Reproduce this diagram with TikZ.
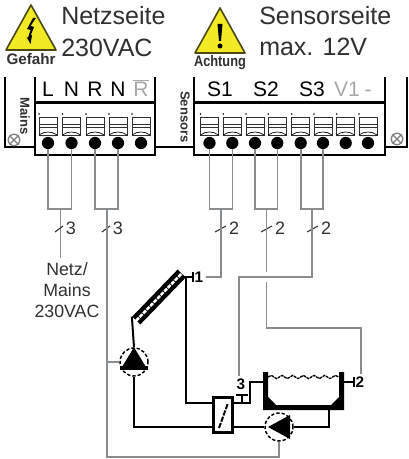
\documentclass[tikz,border=0pt]{standalone}
\usepackage{fontspec}
\setmainfont{Liberation Sans}
\usepackage{tikz}
\usetikzlibrary{decorations.pathmorphing}
\definecolor{wiregray}{HTML}{8A8D90}
\definecolor{signyellow}{HTML}{F2EA24}
\definecolor{signedge}{HTML}{4C4A14}
\definecolor{softblack}{HTML}{303030}
\definecolor{palegray}{HTML}{A8A8A8}

\begin{document}
\begin{tikzpicture}[x=0.75pt,y=-0.75pt,
				heading/.style={anchor=base west,inner sep=0pt,font=\fontsize{18.75pt}{20pt}\selectfont,text=softblack},
				signtext/.style={anchor=base,inner sep=0pt,font=\bfseries\fontsize{11.4pt}{12pt}\selectfont,text=softblack},
				blocktext/.style={rotate=-90,inner sep=0pt,font=\bfseries\fontsize{9.8pt}{10pt}\selectfont,text=softblack},
				pinlabel/.style={anchor=base,inner sep=0pt,font=\fontsize{15.75pt}{16pt}\selectfont},
				count/.style={inner sep=0pt,font=\fontsize{13.5pt}{14pt}\selectfont,text=softblack},
				sensor/.style={inner sep=1.5pt,font=\bfseries\fontsize{11.5pt}{12pt}\selectfont},
				terminal/.style={circle,fill=black,inner sep=0pt,minimum size=9.2pt},
				clamp/.style={rectangle,draw=softblack,line width=0.65pt,fill=white,inner sep=0pt,minimum width=13.5pt,minimum height=13.5pt},
				screw/.style={circle,draw=gray,line width=1pt,inner sep=0pt,minimum size=8.6pt},
				thickline/.style={line width=1.9pt},
				thinline/.style={line width=0.9pt},
				wire/.style={draw=wiregray,line width=1.2pt},
				tick/.style={line width=0.8pt,softblack},
				pipe/.style={line width=1.5pt},
				pump/.style={circle,draw,dashed,line width=1.1pt,fill=white,inner sep=0pt,minimum size=21pt,dash pattern=on 2.5pt off 1.5pt},
				exchanger/.style={rectangle,draw,line width=1.9pt,fill=white,inner sep=0pt,minimum width=14.5pt,minimum height=26pt},
				collector/.style={rectangle,fill=black,inner sep=0pt,rotate=46,minimum width=49pt,minimum height=8.5pt}]
	\useasboundingbox (0,0) rectangle (408,459);
	% warning signs
	\draw[fill=signyellow,draw=signedge,line width=1.2pt,line join=round] (31,5) -- (56,50) -- (6,50) -- cycle;
	\fill (33,18) -- (27,29) -- (30.5,30) -- (28,38) -- (26.5,37) -- (30.5,44) -- (32,35) -- (30.5,36) -- (34,27) -- (30.5,26) -- (36,18) -- cycle;
	\draw[fill=signyellow,draw=signedge,line width=1.2pt,line join=round] (220,8) -- (245,53) -- (195,53) -- cycle;
	\fill (217.5,24) -- (222.5,24) -- (221,41) -- (219,41) -- cycle;
	\fill (220,46) circle (2.5);
	\node[signtext] (Gefahr) at (31,65) {Gefahr};
	\node[signtext] (Achtung) at (220,67) {\scalebox{.84}[1]{Achtung}};
	\node[heading] (Netzseite) at (61,25) {Netzseite};
	\node[heading] (Netzspannung) at (61,57) {230VAC};
	\node[heading] (Sensorseite) at (259,25) {Sensorseite};
	\node[heading] (Sensorspannung) at (259,56) {max. 12V};
	% housing
	\draw[thinline] (5,77) -- (5,147) -- (35,147);
	\draw[thickline] (35,77) -- (35,155) -- (155,155) -- (155,77);
	\draw[thickline] (35,102.5) -- (155,102.5);
	\draw[thinline] (155,147) -- (194,147);
	\draw[thickline] (194,77) -- (194,155) -- (385,155) -- (385,102.5) -- (194,102.5);
	\draw[thickline] (385,102.5) -- (385,77);
	\draw[thinline] (385,147) -- (407,147) -- (407,77);
	\node[blocktext] (Mains) at (25,116) {Mains};
	\node[blocktext] (Sensors) at (185,117) {Sensors};
	\node[screw] (ScrewL) at (14,140) {};
	\node[screw] (ScrewR) at (397,139) {};
	\draw[gray,line width=1pt] (ScrewL.45) -- (ScrewL.225) (ScrewL.135) -- (ScrewL.315);
	\draw[gray,line width=1pt] (ScrewR.45) -- (ScrewR.225) (ScrewR.135) -- (ScrewR.315);
	% pin labels
	\node[pinlabel] (LL) at (48,97) {L};
	\node[pinlabel] (LN) at (71.5,97) {N};
	\node[pinlabel] (LR) at (95,97) {R};
	\node[pinlabel] (LM) at (118,97) {N};
	\node[pinlabel,text=palegray] (LQ) at (141,97) {$\overline{\hbox{R}}$};
	\node[pinlabel] (LS1) at (220,97) {S1};
	\node[pinlabel] (LS2) at (266,97) {S2};
	\node[pinlabel] (LS3) at (312,97) {S3};
	\node[pinlabel,text=palegray] (LV1) at (347,97) {V1};
	\node[pinlabel,text=palegray] (LMinus) at (368,97) {-};
	% terminals
	\foreach \name/\x in {T1/48,T2/71.5,T3/95,T4/118,T5/141,S1/209.5,S2/232.3,S3/255,S4/277.3,S5/300.7,S6/323,S7/345.7,S8/368}{
		\node[clamp] at (\x,126) {};
		\draw[softblack,line width=0.55pt] (\x-9,124) -- (\x+9,124) (\x-9,127) -- (\x+9,127);
		\draw[line width=0.5pt] (\x-9,135) .. controls (\x-4,131) and (\x+4,131) .. (\x+9,135);
		\fill (\x-9,114) circle (0.9);
		\node[terminal] (\name) at (\x,143) {};
	}
	% bundles
	\coordinate (B1) at (60.5,209);
	\coordinate (B2) at (107,209);
	\coordinate (B3) at (221,209);
	\coordinate (B4) at (266.3,209);
	\coordinate (B5) at (312,209);
	\coordinate (Corner) at (107,457);
	\coordinate (CrossA) at (266.3,272);
	\coordinate (CrossB) at (266.3,282);
	\coordinate (TurnA) at (312,277);
	\coordinate (TurnB) at (239,277);
	\coordinate (TurnC) at (266.3,328);
	\coordinate (TurnD) at (361,328);
	\draw[wire] (T1) |- (B1) -| (T2);
	\draw[wire] (T3) |- (B2) -| (T4);
	\draw[wire] (S1) |- (B3) -| (S2);
	\draw[wire] (S3) |- (B4) -| (S4);
	\draw[wire] (S5) |- (B5) -| (S6);
	\node[count,font=\fontsize{13.3pt}{16pt}\selectfont,align=center,anchor=north] (Netz) at (67,262) {Netz/\\Mains\\230VAC};
	\draw[wire] (B1) -- (60.5,258);
	% slashes and counts
	\foreach \xa/\xb/\n/\c in {55/63/N1/3,102/110/N2/3,215/226/N3/2,261/272/N4/2,307/318/N5/2}{
		\draw[tick] (\xa,232) -- (\xb,226);
		\node[count] (\n) at (\xb+8,228) {\c};
	}
	% solar circuit
	\node[collector] (Coll) at (159,297) {};
	\draw[white,line width=1.9pt,dash pattern=on 3pt off 0.8pt] (Coll.west) -- (Coll.east);
	\node[pump] (PumpA) at (134,362) {};
	\node[pump] (PumpB) at (279,427) {};
	\fill (PumpA.north) -- (146,367) -- (122,367) -- cycle;
	\draw[line width=2.4pt] (120,368) -- (148,368);
	\fill (268,427) -- (290,415) -- (290,439) -- cycle;
	\node[exchanger] (HX) at (223,415) {};
	\draw[line width=1.5pt,dashed,dash pattern=on 4pt off 1pt] (219,428) -- (228,403);
	\coordinate (HXa) at (213,403);
	\coordinate (HXb) at (213,427);
	\coordinate (HXc) at (233,403);
	\coordinate (HXd) at (233,427);
	\coordinate (Tee) at (250,403);
	\coordinate (TankIn) at (263,382);
	\coordinate (TankOut) at (329,408);
	\coordinate (TankTick) at (344,382);
	\draw[pipe] (Coll.north west) -- (PumpA.north);
	\draw[pipe] (PumpA.south) |- (HXb);
	\draw[pipe] (Coll.south east) |- (HXa);
	\draw[pipe] (HXc) -- (Tee) |- (TankIn);
	\draw[pipe] (HXd) -- (PumpB.west);
	\draw[pipe] (PumpB.east) -| (TankOut);
	\fill (263,372) -- (268,372) -- (268,397) -- (276,405) -- (331,405) -- (339,397) -- (339,372) -- (344,372) -- (344,410) -- (263,410) -- cycle;
	\draw[line width=1pt,dash pattern=on 2.2pt off 0.6pt,decorate,decoration={snake,segment length=8,amplitude=1.2}] (268,377) -- (339,377);
	% sensors
	\node[sensor] (L1) at (199,277) {1};
	\node[sensor] (L2) at (360,382) {2};
	\node[sensor] (L3) at (241,384) {3};
	\coordinate (Tick1a) at (183,277);
	\coordinate (Tick1b) at (193,277);
	\coordinate (Tick2) at (354,382);
	\coordinate (Tick3) at (242,395);
	\draw[pipe] (Tick1a) -- (Tick1b);
	\draw[pipe] (193,272) -- (193,282);
	\draw[pipe] (TankTick) -- (Tick2);
	\draw[pipe] (Tick2) ++(0,-5) -- ++(0,10);
	\draw[pipe] (Tick3) -- (242,403);
	\draw[pipe] (Tick3) ++(-6,0) -- ++(12,0);
	% sensor and pump wires
	\draw[wire] (B3) |- (L1);
	\draw[wire] (B4) -- (CrossA);
	\draw[wire] (CrossB) -- (TurnC) -- (TurnD) -- (TurnD |- L2.north);
	\draw[wire] (B5) -- (TurnA) -- (TurnB) -- (TurnB |- L3.north);
	\draw[wire] (B2) -- (Corner) -| (PumpB.south);
	\draw[wire] (PumpA.west) -- (PumpA.west -| B2);
\end{tikzpicture}
\end{document}
